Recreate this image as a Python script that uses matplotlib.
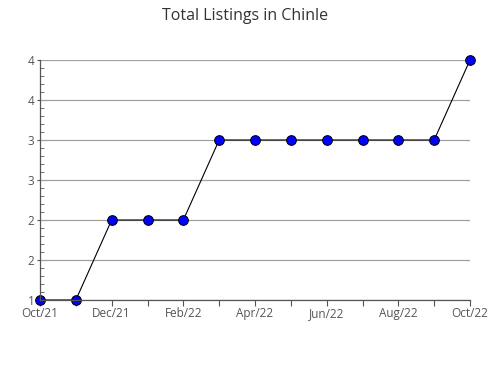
import numpy as np
import matplotlib
matplotlib.use("Agg")
import matplotlib.pyplot as plt
from matplotlib import ticker

# monthly data
months = ['Oct/21', 'Nov/21', 'Dec/21', 'Jan/22', 'Feb/22', 'Mar/22', 'Apr/22',
          'May/22', 'Jun/22', 'Jul/22', 'Aug/22', 'Sep/22', 'Oct/22']
listings = [1, 1, 2, 2, 2, 3, 3, 3, 3, 3, 3, 3, 4]
y_ticks = [1, 1.5, 2, 2.5, 3, 3.5, 4]

plt.rcParams['font.family'] = ['Open Sans', 'DejaVu Sans']

fig = plt.figure(figsize=(4.9, 3.8), dpi=100)
ax = fig.add_axes([40/490, 1-300/380, 430/490, 240/380])

x = np.arange(len(months))
ax.plot(x, listings, color='black', linewidth=0.8, marker='o', markersize=7,
        markerfacecolor='#0000ff', markeredgecolor='black', markeredgewidth=0.7,
        zorder=2, clip_on=False)

ax.set_xlim(0, len(months) - 1)
ax.set_ylim(1, 4)

ax.set_xticks(x)
ax.set_xticklabels([m if i % 2 == 0 else '' for i, m in enumerate(months)])
ax.set_yticks(y_ticks)
ax.yaxis.set_major_formatter(ticker.FuncFormatter(lambda v, p: '%d' % np.floor(v + 0.5)))
ax.yaxis.set_minor_locator(ticker.MultipleLocator(0.1))

ax.grid(which='major', axis='y', color='#a0a0a0', linewidth=0.9)
ax.set_axisbelow(True)

for s in ['top', 'right']:
    ax.spines[s].set_visible(False)
for s in ['left', 'bottom']:
    ax.spines[s].set_color('#555555')
    ax.spines[s].set_linewidth(0.9)
    ax.spines[s].set_zorder(3)

ax.tick_params(axis='x', which='major', direction='out', length=4, color='#555555',
               labelsize=8.5, labelcolor='#555555', pad=1)
ax.tick_params(axis='y', which='major', direction='out', length=2, color='#555555',
               labelsize=8.5, labelcolor='#555555', pad=2)
ax.tick_params(axis='y', which='minor', direction='in', length=3, color='#555555')

fig.suptitle('Total Listings in Chinle', x=0.5, y=0.98, fontsize=11.5, color='#333333')

fig.savefig('out.png', dpi=100)
